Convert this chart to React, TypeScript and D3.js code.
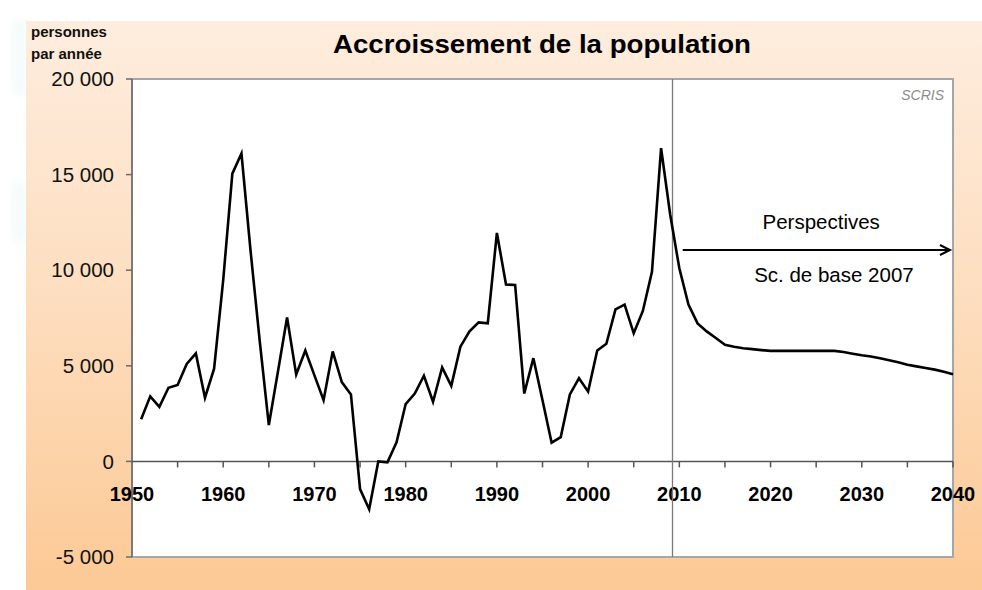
import React from "react";
import * as d3 from "d3";

const years: number[] = [
  1951, 1952, 1953, 1954, 1955, 1956, 1957, 1958, 1959, 1960,
  1961, 1962, 1963, 1964, 1965, 1966, 1967, 1968, 1969, 1970,
  1971, 1972, 1973, 1974, 1975, 1976, 1977, 1978, 1979, 1980,
  1981, 1982, 1983, 1984, 1985, 1986, 1987, 1988, 1989, 1990,
  1991, 1992, 1993, 1994, 1995, 1996, 1997, 1998, 1999, 2000,
  2001, 2002, 2003, 2004, 2005, 2006, 2007, 2008, 2009, 2010,
  2011, 2012, 2013, 2014, 2015, 2016, 2017, 2018, 2019, 2020,
  2021, 2022, 2023, 2024, 2025, 2026, 2027, 2028, 2029, 2030,
  2031, 2032, 2033, 2034, 2035, 2036, 2037, 2038, 2039, 2040,
];

const growth: number[] = [
  2200, 3400, 2850, 3850, 4000, 5100, 5650, 3330, 4850, 9500,
  15050, 16100, 11000, 6300, 1900, 4700, 7530, 4550, 5800, 4500,
  3200, 5750, 4150, 3500, -1450, -2500, 0, -50, 1000, 3000,
  3550, 4480, 3120, 4920, 3950, 6000, 6800, 7270, 7220, 11950,
  9250, 9230, 3550, 5400, 3200, 980, 1270, 3500, 4350, 3650,
  5800, 6150, 7950, 8200, 6700, 7870, 9920, 16380, 12900, 10100,
  8200, 7220, 6800, 6450, 6100, 6000, 5920, 5870, 5820, 5780,
  5780, 5780, 5780, 5780, 5780, 5780, 5780, 5720, 5630, 5550,
  5490, 5400, 5290, 5180, 5060, 4970, 4880, 4800, 4690, 4560,
];

const yTicks: number[] = [-5000, 0, 5000, 10000, 15000, 20000];
const xMinorTicks: number[] = [1955, 1960, 1965, 1970, 1975, 1980, 1985, 1990, 1995, 2000, 2005, 2010, 2015, 2020, 2025, 2030, 2035, 2040];
const xLabels: number[] = [1950, 1960, 1970, 1980, 1990, 2000, 2010, 2020, 2030, 2040];

const title = "Accroissement de la population";
const yTitle: string[] = ["personnes", "par année"];
const source = "SCRIS";
const projectionStartYear = 2009.25;
const arrowYears: number[] = [2010.37, 2039.67];
const arrowValue = 11056;
const annotation1 = { text: "Perspectives", year: 2019.12, value: 12140 };
const annotation2 = { text: "Sc. de base 2007", year: 2018.2, value: 9398 };

const FONT = "'Liberation Sans', Arial, Helvetica, sans-serif";

export default function App() {
  const W = 982;
  const H = 590;
  const left = 132;
  const right = 953;
  const top = 79;
  const bottom = 557;

  const x = d3.scaleLinear().domain([1950, 2040]).range([left, right]);
  const y = d3.scaleLinear().domain([-5000, 20000]).range([bottom, top]);

  const fmt = d3
    .formatLocale({ decimal: ",", thousands: " ", grouping: [3], currency: ["", ""], minus: "-" })
    .format(",d");

  const line = d3
    .line<number>()
    .x((_, i) => x(years[i]))
    .y((d) => y(d));

  const y0 = y(0);
  const ax1 = x(arrowYears[0]);
  const ax2 = x(arrowYears[1]);
  const ay = y(arrowValue);

  return (
    <svg
      width={W}
      height={H}
      style={{ position: "absolute", left: 0, top: 0, display: "block" }}
      fontFamily={FONT}
    >
      <defs>
        <linearGradient id="bg" x1="0" y1="0" x2="0" y2="1">
          <stop offset="0" stopColor="#FEEDDE" />
          <stop offset="0.5" stopColor="#FDDDBE" />
          <stop offset="1" stopColor="#FCC994" />
        </linearGradient>
        <filter id="blur" x="-50%" y="-50%" width="200%" height="200%">
          <feGaussianBlur stdDeviation="5" />
        </filter>
      </defs>
      <rect x={0} y={0} width={W} height={H} fill="#ffffff" />
      <rect x={14} y={20} width={12} height={75} fill="#E4F6F4" opacity={0.5} filter="url(#blur)" />
      <rect x={14} y={182} width={12} height={60} fill="#E4F6F4" opacity={0.5} filter="url(#blur)" />
      <rect x={26} y={21} width={W - 26} height={H - 21} fill="url(#bg)" />

      {/* plot area */}
      <rect x={left} y={top} width={right - left} height={bottom - top} fill="#ffffff" stroke="#A6A6A6" strokeWidth={2} />
      <line x1={left} x2={left} y1={top} y2={bottom} stroke="#6b6b6b" strokeWidth={1.5} />

      {/* title */}
      <text x={333} y={53} fontSize={26} fontWeight="bold" textLength={418} lengthAdjust="spacingAndGlyphs" fill="#000">
        {title}
      </text>

      {/* y title */}
      {yTitle.map((t, i) => (
        <text key={t} x={31} y={37 + i * 22} fontSize={15} fontWeight="bold" fill="#111">
          {t}
        </text>
      ))}

      {/* source */}
      <text x={944} y={100} fontSize={14} fontStyle="italic" fill="#8c8c8c" textAnchor="end">
        {source}
      </text>

      {/* y ticks */}
      {yTicks.map((t) => (
        <g key={t}>
          <line x1={left - 6} x2={left} y1={y(t)} y2={y(t)} stroke="#6b6b6b" strokeWidth={1.5} />
          <text x={114} y={y(t)} dy="0.35em" fontSize={20.5} textAnchor="end" fill="#111">
            {fmt(t)}
          </text>
        </g>
      ))}

      {/* x axis at zero */}
      <line x1={left} x2={right} y1={y0} y2={y0} stroke="#555" strokeWidth={1.5} />
      {xMinorTicks.map((t) => (
        <line key={t} x1={x(t)} x2={x(t)} y1={y0} y2={y0 + 6} stroke="#555" strokeWidth={1.5} />
      ))}
      {xLabels.map((t) => (
        <text key={t} x={x(t)} y={501} fontSize={20} fontWeight="bold" textAnchor="middle" fill="#000">
          {t}
        </text>
      ))}

      {/* projection separator */}
      <line
        x1={x(projectionStartYear)}
        x2={x(projectionStartYear)}
        y1={top}
        y2={bottom}
        stroke="#7a7a7a"
        strokeWidth={1.3}
      />

      {/* data line */}
      <path d={line(growth) || ""} fill="none" stroke="#000" strokeWidth={2.6} strokeLinejoin="miter" />

      {/* arrow */}
      <line x1={ax1} x2={ax2} y1={ay} y2={ay} stroke="#000" strokeWidth={2} />
      <path
        d={`M${ax2 - 10},${ay - 5} L${ax2},${ay} L${ax2 - 10},${ay + 5}`}
        fill="none"
        stroke="#000"
        strokeWidth={2}
      />
      <text x={x(annotation1.year)} y={y(annotation1.value)} fontSize={20.5} fill="#000">
        {annotation1.text}
      </text>
      <text x={x(annotation2.year)} y={y(annotation2.value)} fontSize={20.5} fill="#000">
        {annotation2.text}
      </text>
    </svg>
  );
}
